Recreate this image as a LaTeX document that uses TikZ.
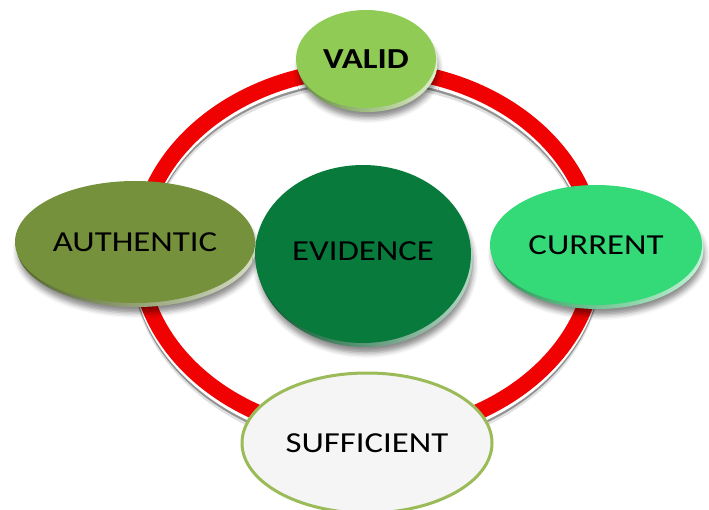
\documentclass[tikz,border=0pt]{standalone}
\usepackage{fontspec}
\setmainfont{Carlito}
\usetikzlibrary{shapes.geometric,shadows.blur}

\definecolor{ringred}{RGB}{240,2,2}
\definecolor{validgreen}{RGB}{143,203,85}
\definecolor{autholive}{RGB}{118,145,60}
\definecolor{currentgreen}{RGB}{52,217,120}
\definecolor{evidencegreen}{RGB}{7,122,60}
\definecolor{sufffill}{RGB}{245,245,245}
\definecolor{suffedge}{RGB}{155,187,89}

% labels are set a little wider than the face's natural width
\newcommand\widelabel[1]{\scalebox{1.2}[1]{#1}}

\tikzset{
  labeltext/.style={font=\fontsize{29}{32}\selectfont, text=black},
  discface/.style={ellipse, inner sep=0pt, labeltext},
  discshadow/.style={blur shadow={shadow xshift=1pt, shadow yshift=-6pt,
      shadow opacity=45, shadow blur radius=5pt}},
  ringband/.style={line width=16pt},
}

% bevelled disc: #1 name, #2 x, #3 y, #4 x radius, #5 y radius, #6 colour, #7 text
\newcommand\bevdisc[7]{%
  \shade[discshadow, left color=#6!70!black, right color=#6!30!white]
    ({#2+1.5},{#3+4}) ellipse [x radius=#4pt, y radius=#5pt];
  \node[discface, fill=#6, minimum width={2*#4pt}, minimum height={2*#5pt}]
    (#1) at (#2,#3) {#7};
}

\begin{document}
\begin{tikzpicture}[x=1pt, y=-1pt]
  \useasboundingbox (0,0) rectangle (709,510);

  % ring with a soft lip and shadow underneath
  \draw[ringband, black, opacity=.12] (367,261) ellipse [x radius=228pt, y radius=183pt];
  \draw[ringband, black, opacity=.35] (367,258) ellipse [x radius=228pt, y radius=183pt];
  \draw[ringband, white] (367,255.5) ellipse [x radius=228pt, y radius=183pt];
  \draw[ringband, ringred] (367,252) ellipse [x radius=228pt, y radius=183pt];

  % discs on and inside the ring
  \bevdisc{authentic}{135}{242}{120}{61}{autholive}{\widelabel{AUTHENTIC}}
  \bevdisc{evidence}{363}{254}{108}{89}{evidencegreen}{\raisebox{5pt}{\widelabel{EVIDENCE}}}
  \bevdisc{current}{596}{245}{106}{60}{currentgreen}{\widelabel{CURRENT}}
  \bevdisc{valid}{366}{59}{70}{49}{validgreen}{\raisebox{-3pt}{\widelabel{\textbf{VALID}}}}

  \node[ellipse, inner sep=0pt, labeltext, fill=sufffill, draw=suffedge,
        line width=3pt, minimum width=250pt, minimum height=140pt]
    (sufficient) at (367,443) {\widelabel{SUFFICIENT}};
\end{tikzpicture}
\end{document}
